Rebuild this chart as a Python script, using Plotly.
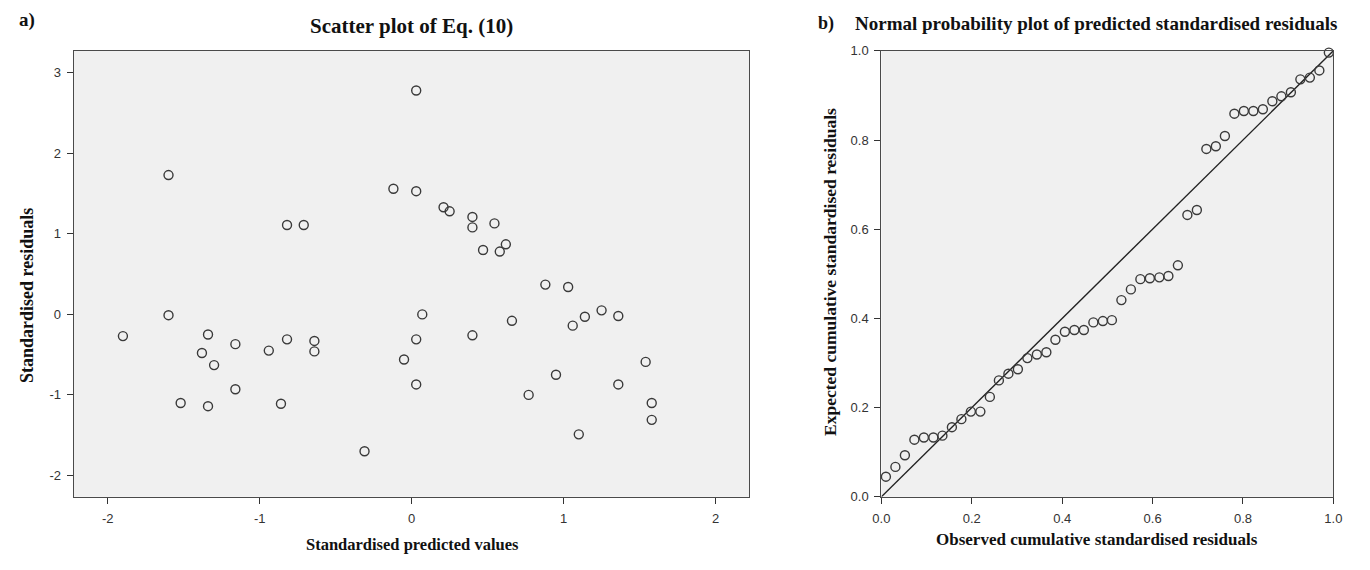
import plotly.graph_objects as go

# ---- Panel a: scatter of standardised predicted values vs standardised residuals
pred_values = [-1.90, -1.60, -1.60, -1.52, -1.38, -1.34, -1.34, -1.30, -1.16, -1.16,
               -0.94, -0.86, -0.82, -0.82, -0.71, -0.64, -0.64, -0.31, -0.12, -0.05,
               0.03, 0.03, 0.03, 0.03, 0.07, 0.21, 0.25, 0.40, 0.40, 0.40,
               0.47, 0.545, 0.58, 0.62, 0.66, 0.77, 0.88, 0.95, 1.03, 1.06,
               1.10, 1.14, 1.25, 1.36, 1.36, 1.54, 1.58, 1.58]
std_residuals = [-0.27, 1.73, -0.01, -1.10, -0.48, -0.25, -1.14, -0.63, -0.37, -0.93,
                 -0.45, -1.11, 1.11, -0.31, 1.11, -0.33, -0.46, -1.70, 1.56, -0.56,
                 2.78, 1.53, -0.31, -0.87, 0.00, 1.33, 1.28, 1.21, 1.08, -0.26,
                 0.80, 1.13, 0.78, 0.87, -0.08, -1.00, 0.37, -0.75, 0.34, -0.14,
                 -1.49, -0.03, 0.05, -0.02, -0.87, -0.59, -1.10, -1.31]

# ---- Panel b: normal P-P plot
observed_cum = [0.010, 0.031, 0.052, 0.073, 0.094, 0.115, 0.135, 0.156, 0.177, 0.198,
                0.219, 0.240, 0.260, 0.281, 0.302, 0.323, 0.344, 0.365, 0.385, 0.406,
                0.427, 0.448, 0.469, 0.490, 0.510, 0.531, 0.552, 0.573, 0.594, 0.615,
                0.635, 0.656, 0.677, 0.698, 0.719, 0.740, 0.760, 0.781, 0.802, 0.823,
                0.844, 0.865, 0.885, 0.906, 0.927, 0.948, 0.969, 0.990]
expected_cum = [0.045, 0.067, 0.093, 0.128, 0.133, 0.133, 0.137, 0.156, 0.174, 0.191,
                0.191, 0.224, 0.261, 0.276, 0.286, 0.311, 0.319, 0.324, 0.352, 0.370,
                0.374, 0.374, 0.391, 0.394, 0.396, 0.441, 0.465, 0.488, 0.490, 0.492,
                0.495, 0.519, 0.632, 0.643, 0.780, 0.786, 0.809, 0.859, 0.865, 0.865,
                0.869, 0.887, 0.898, 0.907, 0.936, 0.940, 0.956, 0.996]
ref_line = [0.0, 1.0]

x_ticks_a = [-2, -1, 0, 1, 2]
x_ticklabels_a = ["-2", "-1", "0", "1", "2"]
y_ticks_a = [-2, -1, 0, 1, 2, 3]
y_ticklabels_a = ["-2", "-1", "0", "1", "2", "3"]
ticks_b = [0.0, 0.2, 0.4, 0.6, 0.8, 1.0]
ticklabels_b = ["0.0", "0.2", "0.4", "0.6", "0.8", "1.0"]

marker_style = dict(symbol="circle-open", size=9, color="#3a3a3a",
                    line=dict(width=1.4, color="#3a3a3a"))

fig = go.Figure()
fig.add_trace(go.Scatter(x=pred_values, y=std_residuals, mode="markers",
                         marker=marker_style, xaxis="x", yaxis="y",
                         showlegend=False))
fig.add_trace(go.Scatter(x=ref_line, y=ref_line, mode="lines",
                         line=dict(color="#222222", width=1.4),
                         xaxis="x2", yaxis="y2", showlegend=False))
fig.add_trace(go.Scatter(x=observed_cum, y=expected_cum, mode="markers",
                         marker=marker_style, xaxis="x2", yaxis="y2",
                         showlegend=False, cliponaxis=False))

tick_font = dict(family="Liberation Sans, Arial, sans-serif", size=13, color="#333333")
axis_common = dict(showgrid=False, zeroline=False, showline=True, mirror=True,
                   linecolor="#4a4a4a", linewidth=1.3, ticks="outside",
                   ticklen=6, tickwidth=1.3, tickcolor="#333333",
                   tickfont=tick_font, ticklabelstandoff=3)

fig.update_layout(
    width=1370, height=570,
    margin=dict(l=0, r=0, t=0, b=0),
    paper_bgcolor="white",
    plot_bgcolor="#f0f0f0",
    xaxis=dict(domain=[0.04796, 0.54766], range=[-2.223, 2.223],
               tickvals=x_ticks_a, ticktext=x_ticklabels_a, anchor="y", **axis_common),
    yaxis=dict(domain=[0.11754, 0.92105], range=[-2.265, 3.273],
               tickvals=y_ticks_a, ticktext=y_ticklabels_a, anchor="x", **axis_common),
    xaxis2=dict(domain=[0.64526, 0.97956], range=[0, 1],
                tickvals=ticks_b, ticktext=ticklabels_b, anchor="y2", **axis_common),
    yaxis2=dict(domain=[0.11754, 0.92105], range=[0, 1],
                tickvals=ticks_b, ticktext=ticklabels_b, anchor="x2", **axis_common),
)

serif = "Liberation Serif, Times New Roman, serif"
ann = [
    dict(text="<b>a)</b>", x=18, y=13, size=19),
    dict(text="<b>Scatter plot of Eq. (10)</b>", x=408, y=20, size=21),
    dict(text="<b>b)</b>", x=828, y=17, size=18),
    dict(text="<b>Normal probability plot of predicted standardised residuals</b>",
         x=1101, y=17, size=19),
    dict(text="<b>Standardised predicted values</b>", x=409, y=552, size=16.5),
    dict(text="<b>Observed cumulative standardised residuals</b>", x=1102, y=547, size=17),
    dict(text="<b>Standardised residuals</b>", x=18, y=296, size=18, angle=-90),
    dict(text="<b>Expected cumulative standardised residuals</b>", x=832, y=272,
         size=17.5, angle=-90),
]
for a in ann:
    fig.add_annotation(text=a["text"], x=a["x"] / 1370, y=1 - a["y"] / 570,
                       xref="paper", yref="paper", showarrow=False,
                       xanchor="center", yanchor="middle",
                       textangle=a.get("angle", 0),
                       font=dict(family=serif, size=a["size"], color="#111111"))

fig.write_html("out.html")
